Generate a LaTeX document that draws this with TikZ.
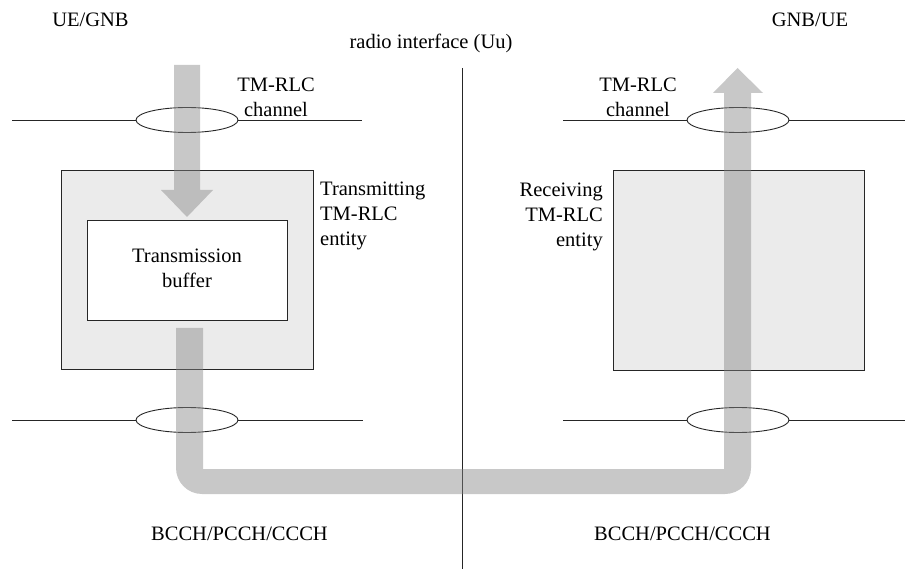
\documentclass[tikz,border=0pt]{standalone}
\usepackage{fontspec}
\setmainfont{Liberation Serif}
\usetikzlibrary{shapes.geometric}
\begin{document}
\begin{tikzpicture}[x=1pt,y=-1pt,
  lbl/.style={font=\fontsize{20.5}{25}\selectfont, inner sep=0pt, anchor=base},
  entity/.style={draw=black!85, line width=0.9pt, fill=black!8, inner sep=0pt},
  bufbox/.style={draw=black!85, line width=0.9pt, fill=white, inner sep=0pt, align=center, font=\fontsize{20.5}{25}\selectfont},
  chan/.style={draw=black!85, line width=0.9pt, ellipse, minimum width=102pt, minimum height=25pt, inner sep=0pt},
  wire/.style={line width=0.8pt, draw=black!85},
  flow/.style={fill=black!48, fill opacity=0.45, draw=none}]
\useasboundingbox (0,0) rectangle (905,569);

% entities
\node[entity, minimum width=252pt, minimum height=199pt] (tx) at (187,269.5) {};
\node[entity, minimum width=251pt, minimum height=200pt] (rx) at (738.5,270) {};
\node[bufbox, minimum width=200pt, minimum height=100pt] (buf) at (187,270) {};
\node[lbl, align=center] (buflab) at (187,288) {Transmission\\buffer};

% channels
\node[chan] (chtl) at (187,120) {};
\node[chan] (chtr) at (738,120) {};
\node[chan] (chbl) at (187,420) {};
\node[chan] (chbr) at (738,420) {};
\coordinate (tl1) at (12,120);  \coordinate (tl2) at (362,120);
\coordinate (tr1) at (563,120); \coordinate (tr2) at (905,120);
\coordinate (bl1) at (12,420);  \coordinate (bl2) at (363,420);
\coordinate (br1) at (563,420); \coordinate (br2) at (905,420);
\draw[wire] (tl1) -- (chtl.west) (chtl.east) -- (tl2);
\draw[wire] (tr1) -- (chtr.west) (chtr.east) -- (tr2);
\draw[wire] (bl1) -- (chbl.west) (chbl.east) -- (bl2);
\draw[wire] (br1) -- (chbr.west) (chbr.east) -- (br2);

% radio interface
\coordinate (uutop) at (462.5,68);
\coordinate (uubot) at (462.5,569);
\draw[wire] (uutop) -- (uubot);

% flows
\path[flow] (174,65) -- (200,65) -- (200,190) -- (213,190) -- (187,217) -- (161,190) -- (174,190) -- cycle;
\path[flow] (176,328) -- (203,328) -- (203,469) -- (724,469) -- (724,93) -- (713,93) -- (737.5,68)
  -- (763,93) -- (751,93) -- (751,468) .. controls (751,482.36) and (739.36,494) .. (725,494)
  -- (202,494) .. controls (187.64,494) and (176,482.36) .. (176,468) -- cycle;

% labels
\node[lbl] (ueg) at (90.5,27) {UE/GNB};
\node[lbl] (gue) at (810,27) {GNB/UE};
\node[lbl] (uu) at (431,49) {radio interface (Uu)};
\node[lbl, align=center] (tlab) at (276,117) {TM-RLC\\channel};
\node[lbl, align=center] (rlab) at (638,117) {TM-RLC\\channel};
\node[lbl, align=left, anchor=base west] (txlab) at (320,246) {Transmitting\\TM-RLC\\entity};
\node[lbl, align=right, anchor=base east] (rxlab) at (603,247) {Receiving\\TM-RLC\\entity};
\node[lbl] (bl) at (239.5,540) {BCCH/PCCH/CCCH};
\node[lbl] (br) at (682.5,540) {BCCH/PCCH/CCCH};
\end{tikzpicture}
\end{document}
